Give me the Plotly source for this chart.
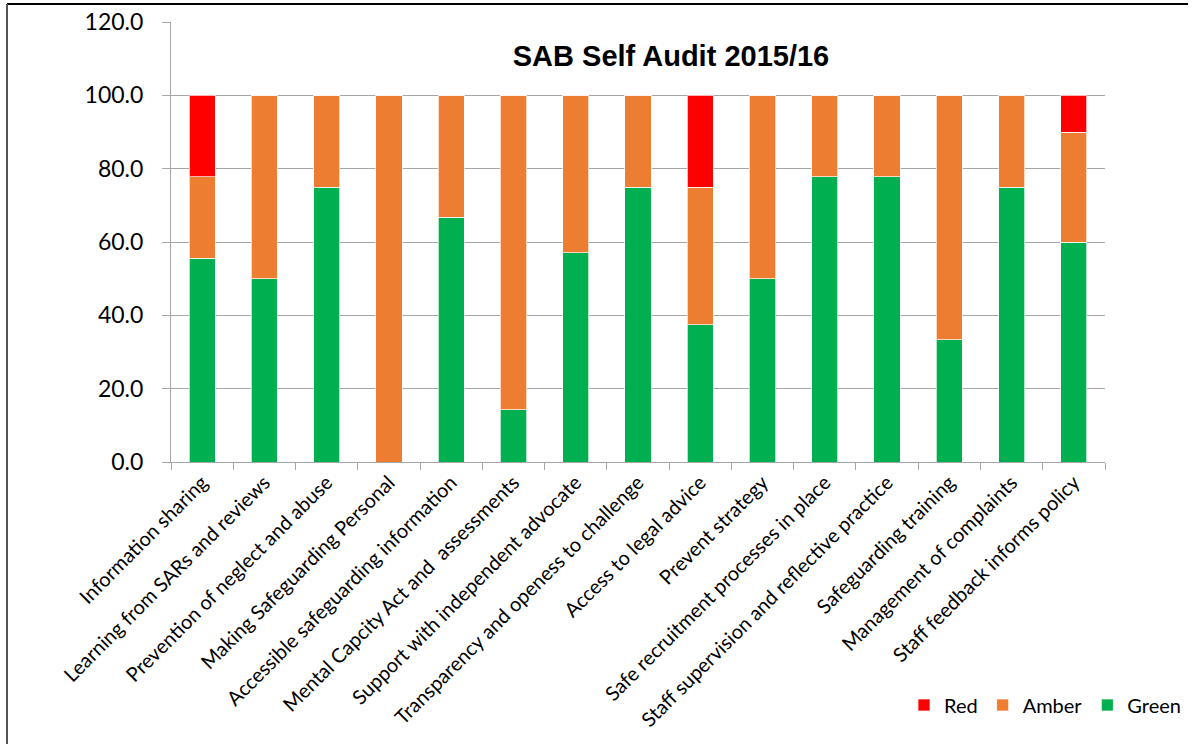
import plotly.graph_objects as go

categories = [
    "Information sharing",
    "Learning from SARs and reviews",
    "Prevention of neglect and abuse",
    "Making Safeguarding Personal",
    "Accessible safeguarding information",
    "Mental Capcity Act and  assessments",
    "Support with independent advocate",
    "Transparency and openess to challenge",
    "Access to legal advice",
    "Prevent strategy",
    "Safe recruitment processes in place",
    "Staff supervision and reflective practice",
    "Safeguarding training",
    "Management of complaints",
    "Staff feedback informs policy",
]
green = [55.6, 50.0, 75.0, 0.0, 66.7, 14.3, 57.1, 75.0, 37.5, 50.0, 77.8, 77.8, 33.3, 75.0, 60.0]
amber = [22.2, 50.0, 25.0, 100.0, 33.3, 85.7, 42.9, 25.0, 37.5, 50.0, 22.2, 22.2, 66.7, 25.0, 30.0]
red = [22.2, 0.0, 0.0, 0.0, 0.0, 0.0, 0.0, 0.0, 25.0, 0.0, 0.0, 0.0, 0.0, 0.0, 10.0]

W, H = 1203, 744
L, R, T, B = 171, 98, 22, 282

fig = go.Figure()
edge = dict(color="rgba(255,255,255,0.7)", width=1)
fig.add_trace(go.Bar(name="Green", x=categories, y=green, marker=dict(color="#00B050", line=edge)))
fig.add_trace(go.Bar(name="Amber", x=categories, y=amber, marker=dict(color="#ED7D31", line=edge)))
fig.add_trace(go.Bar(name="Red", x=categories, y=red, marker=dict(color="#FF0000", line=edge)))

pw = W - L - R
ph = H - T - B
def px_x(x):
    return (x - L) / pw
def px_y(y):
    return (H - B - y) / ph

fig.update_layout(
    width=W, height=H,
    barmode="stack",
    bargap=0.58,
    paper_bgcolor="white",
    plot_bgcolor="white",
    margin=dict(l=L, r=R, t=T, b=B, autoexpand=False),
    font=dict(family="Lato, Calibri, sans-serif", color="black"),
    title=dict(
        text="<b>SAB Self Audit 2015/16</b>",
        font=dict(family="Liberation Sans, Arial, sans-serif", size=29, color="black"),
        x=671 / W, xanchor="center", xref="container",
        y=1 - 56 / H, yanchor="middle", yref="container",
    ),
    showlegend=True,
    legend=dict(
        orientation="h",
        traceorder="reversed",
        xref="container", yref="container",
        x=1186 / W, xanchor="right",
        y=1 - 705 / H, yanchor="middle",
        font=dict(size=20, family="Lato, Calibri, sans-serif"),
        itemwidth=30,
        tracegroupgap=0,
        bgcolor="rgba(0,0,0,0)",
    ),
    xaxis=dict(
        type="category",
        tickangle=-45,
        tickfont=dict(size=20),
        showline=True, linecolor="#A6A6A6", linewidth=1,
        ticks="outside", tickson="boundaries", ticklen=7, tickcolor="#A6A6A6",
        showgrid=False,
        automargin=False,
    ),
    yaxis=dict(
        range=[0, 120], dtick=20, tickformat=".1f",
        tickfont=dict(size=23),
        showline=True, linecolor="#A6A6A6", linewidth=1,
        ticks="outside", ticklen=8, tickcolor="#A6A6A6",
        ticklabelstandoff=14,
        showgrid=True, gridcolor="#A6A6A6", gridwidth=1,
        zeroline=False,
        automargin=False,
    ),
    shapes=[
        dict(type="line", xref="paper", yref="paper",
             x0=px_x(7), x1=px_x(1188), y0=px_y(4), y1=px_y(4),
             line=dict(color="black", width=2)),
        dict(type="line", xref="paper", yref="paper",
             x0=px_x(7), x1=px_x(7), y0=px_y(4), y1=px_y(744),
             line=dict(color="#555555", width=2)),
    ],
)

fig.write_html(
    "out.html",
    config={"displayModeBar": False},
    post_script="document.body.style.margin='0';document.body.style.overflow='hidden';",
)
